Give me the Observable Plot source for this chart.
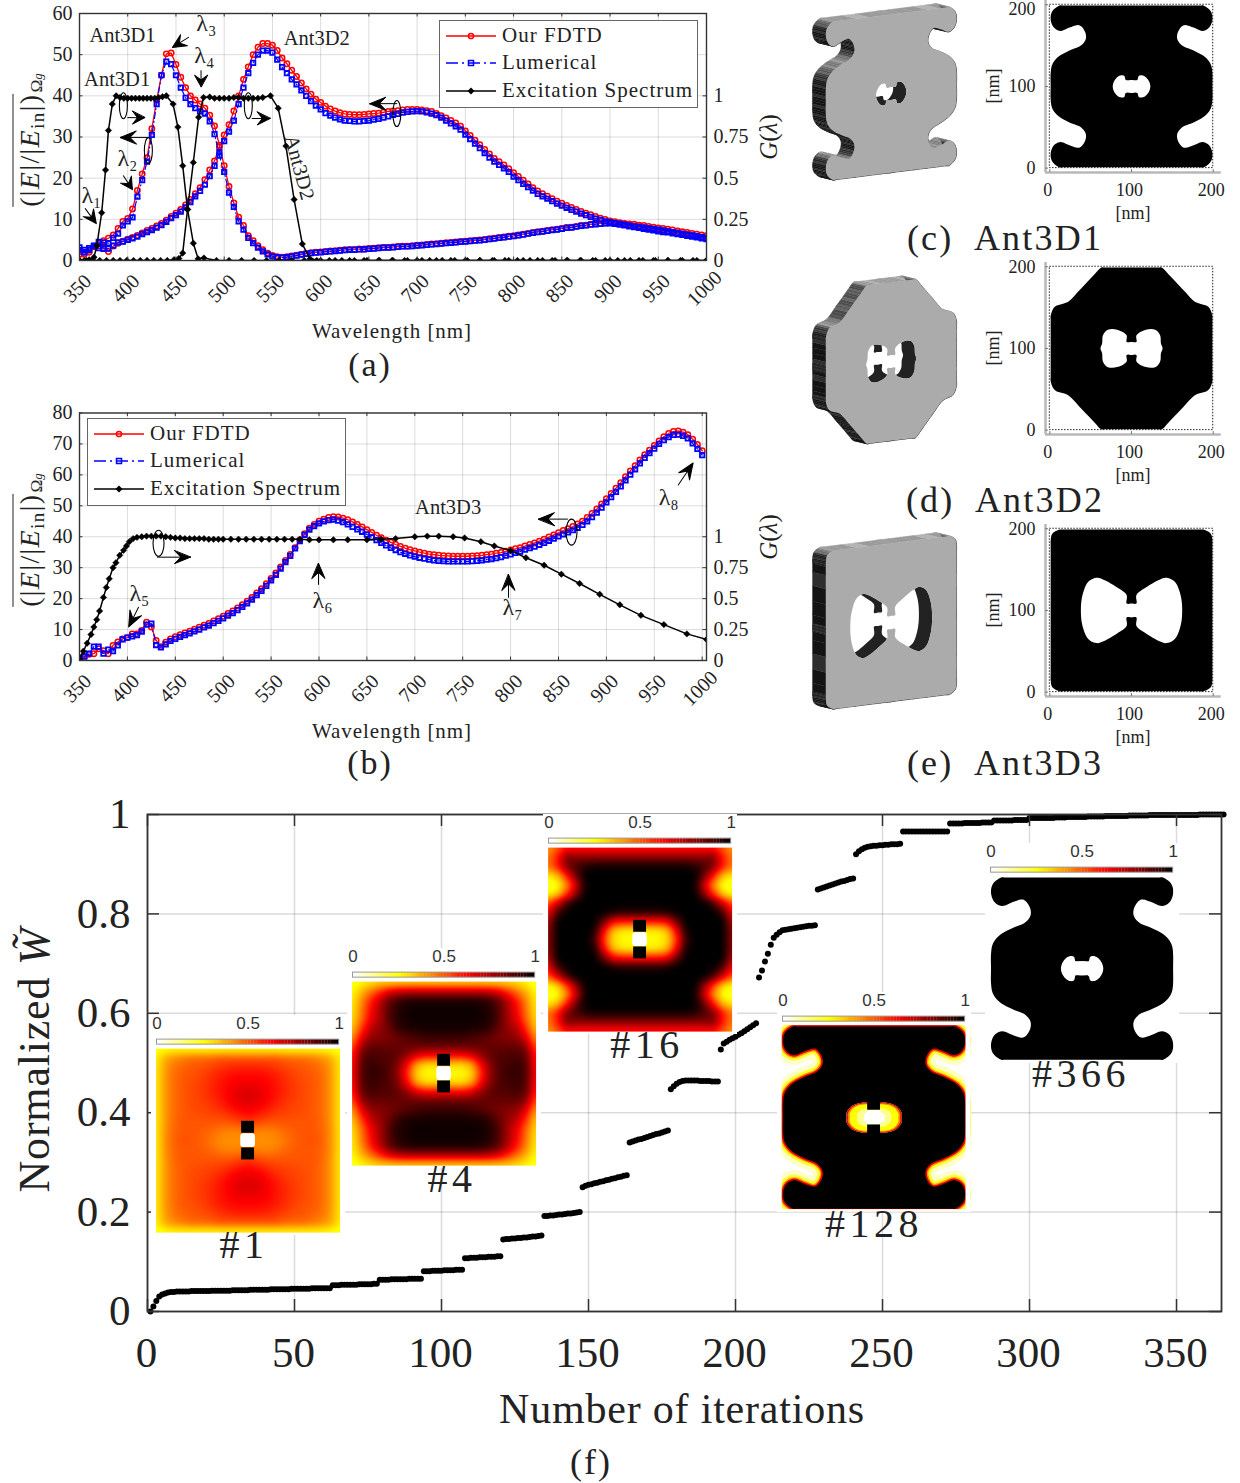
<!DOCTYPE html>
<html><head><meta charset="utf-8">
<script src="https://cdn.jsdelivr.net/npm/d3@7"></script>
<script src="https://cdn.jsdelivr.net/npm/@observablehq/plot@0.6"></script>
<style>
html,body{margin:0;padding:0;background:#fff}
#page{position:relative;width:1240px;height:1483px;overflow:hidden;font-family:"Liberation Serif",serif;color:#222}
#page svg{position:absolute;max-width:none}
.t{position:absolute;white-space:nowrap;transform-origin:center}
.legend{position:absolute;background:#fff;border:1.5px solid #666;box-sizing:border-box}
</style></head><body><div id="page"></div>
<script>
// ---------- spectra sampled every 5 nm from 350 to 1000 nm ----------
const wavelength = d3.range(350, 1001, 5);
const d1Fdtd = [1.5,1.5,2,3.5,4.2,4.8,5.4,6.2,7.8,9.5,
 10.2,12.5,17,21,25,32,39,45,50.2,50.4,47.6,44.5,42,40,39,38,37,35.3,32.7,28,
 23,18,14,10.5,8.5,6,4.8,3.6,2.6,1.8,1.2,.9,.8,.9,1.1,1.3,1.5,1.7,1.9,2,
 2.1,2.2,2.3,2.4,2.5,2.6,2.7,2.7,2.8,2.8,2.9,3,3.1,3.2,3.2,3.3,3.4,3.5,3.5,3.6,
 3.7,3.8,3.9,4,4.1,4.2,4.3,4.4,4.5,4.6,4.7,4.8,4.9,5,5.1,5.3,5.4,5.6,5.7,5.9,
 6,6.2,6.4,6.6,6.8,7,7.1,7.3,7.5,7.6,7.8,8,8.1,8.3,8.5,8.6,8.8,8.9,9,9.1,
 9.2,9.1,9,8.8,8.6,8.4,8.2,8,7.8,7.6,7.4,7.2,7.1,6.9,6.7,6.5,6.3,6.1,5.9,5.7,5.5];
const d1Lumerical = [3.2,2.6,3,3.5,4.5,4.4,4.2,5.5,6.5,8.5,
 9.5,10.5,15.5,19.5,24,30.5,38,45,48.3,47.7,45,42,39.5,38,37,36.2,35.7,33.8,30.7,25.5,
 21.5,16.5,13,9.5,7.5,5.5,4.2,3.1,2.2,1.5,1,.8,.7,.8,1,1.2,1.4,1.6,1.8,1.9,
 2,2.1,2.2,2.3,2.4,2.5,2.6,2.6,2.7,2.7,2.8,2.9,3,3.1,3.1,3.2,3.3,3.4,3.4,3.5,
 3.6,3.7,3.8,3.9,4,4.1,4.2,4.3,4.4,4.5,4.6,4.7,4.8,4.9,5,5.2,5.3,5.5,5.6,5.8,
 5.9,6.1,6.3,6.5,6.7,6.9,7,7.2,7.4,7.5,7.7,7.9,8,8.2,8.4,8.5,8.7,8.8,8.9,9,
 9,8.9,8.7,8.5,8.3,8.1,7.9,7.7,7.5,7.3,7.1,6.9,6.8,6.6,6.4,6.2,6,5.8,5.6,5.4,5.2];
const d2Fdtd = [1.5,2,2.5,3.4,3.6,3,2.2,3.5,4.2,4.7,
 5.2,5.6,6.1,6.7,7.3,7.8,8.4,9,9.8,10.7,11.5,12.4,13.5,14.8,16.2,17.7,19.6,22,24.2,27.6,
 30.5,33,36.3,40,44,47,50,51.8,52.7,52.7,52.3,51,49.2,47.8,46.2,44.7,43.1,41.7,40.4,39.2,
 38.4,37.5,36.8,36.3,35.9,35.6,35.5,35.4,35.4,35.5,35.6,35.7,35.8,36,36.2,36.3,36.4,36.6,36.7,36.7,
 36.7,36.6,36.4,36.2,35.7,35.2,34.6,34,33.4,32.6,31.5,30.4,29.2,28.1,27,25.9,24.8,24,23.2,22.3,
 21.3,20.4,19.5,18.6,17.7,16.9,16.2,15.6,15,14.4,13.9,13.4,12.9,12.4,11.9,11.5,11.1,10.7,10.3,10,
 9.6,9.4,9.2,9,8.9,8.8,8.6,8.5,8.3,8.1,7.9,7.8,7.6,7.4,7.2,7,6.8,6.6,6.4,6.2,6];
const d2Lumerical = [2.5,2,2.6,3.6,3,2.8,2.9,3.6,4.4,4.6,
 5,5.4,5.8,6.4,6.9,7.4,8,8.6,9.4,10.3,11,11.9,12.9,14.2,15.6,16.9,18.4,20.5,23,26.3,
 29,31.3,34,38,42,45.5,48,50,51,51,50.5,48.8,47,45.5,44,42.8,41.3,40,38.7,37.6,
 36.7,35.8,35.2,34.7,34.3,34,33.9,33.8,33.8,33.9,34,34.2,34.4,34.7,35,35.4,35.6,35.9,36.1,36.2,
 36.3,36.2,36,35.7,35.3,34.7,34,33.3,32.6,31.8,30.6,29.5,28.4,27.3,26.1,25,24,23.2,22.4,21.5,
 20.4,19.5,18.6,17.8,17,16.2,15.6,15,14.4,13.8,13.3,12.8,12.3,11.9,11.4,11,10.6,10.2,9.9,9.5,
 9.3,9.1,8.9,8.7,8.5,8.3,8.2,8,7.8,7.7,7.5,7.3,7.1,6.9,6.7,6.5,6.3,6.1,5.9,5.7,5.5];
const d3Fdtd = [.5,1,2,2.2,3.8,3.2,2.2,4.9,6,7,
 7.4,8.6,8.6,9.7,12.4,10.8,6.5,4.5,5.9,7,7.7,8.3,8.9,9.5,10.1,10.8,11.4,12,12.8,13.5,
 14.3,15.2,16,17,18,19.2,20.4,21.8,23.2,24.8,26.5,28.3,30.2,32.3,34.3,36.5,39,41,42.8,44,
 45,45.7,46.2,46.5,46.4,46,45.5,44.8,44,43.2,42.3,41.4,40.5,39.7,38.9,38.2,37.5,36.9,36.3,35.8,
 35.4,35,34.7,34.4,34.2,34,33.9,33.8,33.7,33.7,33.7,33.7,33.8,33.9,34,34.2,34.4,34.7,34.9,35.3,
 35.7,36.1,36.5,37,37.5,38,38.6,39.2,39.9,40.6,41.3,42,42.6,43.3,44.1,45,46.2,47.5,49,50.6,
 52.3,54,55.7,57.5,59.4,61.3,63,64.8,66.5,68,69.5,71,72.3,73.4,74,74.2,73.8,73,71.5,69.8,67.8];
const d3Lumerical = [1,1.3,2.2,4.5,4.5,2.2,3.5,3,4.9,6.8,
 7.4,7.8,8.2,9.3,11.6,11.9,5,4.2,5.2,6.3,7,7.6,8.2,8.8,9.4,10,10.7,11.3,12.1,12.8,
 13.6,14.5,15.3,16.3,17.3,18.5,19.7,21.1,22.5,24.1,25.9,27.7,29.7,31.8,33.8,36.2,38.6,40.6,42.3,43.4,
 44.3,45,45.4,45.5,45.2,44.7,44,43.2,42.4,41.6,40.7,39.8,38.9,38,37.2,36.4,35.7,35,34.5,34,
 33.6,33.2,32.9,32.6,32.4,32.2,32.1,32,32,32,32,32,32.1,32.2,32.4,32.6,32.8,33.1,33.4,33.9,
 34.3,34.8,35.2,35.8,36.3,36.8,37.4,38,38.7,39.4,40.1,40.8,41.4,42.1,42.9,43.8,45,46.3,47.8,49.4,
 51.1,52.8,54.5,56.3,58.2,60.1,61.8,63.7,65.5,67,68.5,70,71.2,72.2,72.9,73,72.6,71.8,70.2,68.4,66.4];

// ---------- excitation spectra G(lambda) ----------
const zeroTailA = [492,505,518,531,544,557,570,583,596,609,622,635,648,661,674,687,700,713,726,739,752,765,778,791,804,817,830,843,856,869,882,895,908,921,934,947,960,973,986,1000];
const exc1Wl = [350,355,360,365,368,373,377,380,384,388,392,396,400,404,408,412,416,420,424,428,432,436,440,447,452,457,462,468,473,479,...zeroTailA];
const exc1G = [0,0,.005,.02,.09,.29,.55,.79,.95,1,.99,.985,.985,.985,.985,.985,.985,.985,.985,.985,.99,.995,1,.95,.81,.575,.31,.105,.01,.015,...zeroTailA.map(()=>0)];
const exc2Wl = [350,357,364,371,378,385,392,399,406,413,420,427,434,441,448,453,457,462,468,473.5,478.6,485,490,495,500,505,510,515,520,525,530,535,540,548,556,564,572.5,581,589,600,615,630,645,660,675,690,705,720,735,750,765,780,795,810,825,840,855,870,885,900,915,930,945,960,975,990,1000];
const exc2G = [0,0,0,0,0,0,0,0,0,0,0,0,0,0,.005,.012,.045,.31,.595,.87,.99,.993,.985,.985,.985,.985,.99,.99,.985,.985,.985,.985,.99,1,.925,.695,.37,.1,.01,0,0,0,0,0,0,0,0,0,0,0,0,0,0,0,0,0,0,0,0,0,0,0,0,0,0,0,0];
const exc3Wl = [350,354,358,362,365,368,371,375,378,381,385,388,392,396,399,402,406,410,415,420,425,430,435,440,445,450,455,460,465,470,475,480,485,490,495,500,508,516,524,532,540,548,556,564,572,580,590,600,615,630,650,665,680,700,713,725,740,752,769,783,800,816,835,853,872,893,914,936,960,984,1004.5];
const exc3G = [.0125,.075,.14,.21,.27,.33,.4,.51,.59,.66,.75,.79,.85,.89,.925,.96,.985,.995,1,1.005,1.005,1.005,1.005,1,.995,.99,.99,.985,.985,.985,.985,.985,.98,.98,.98,.98,.98,.98,.98,.98,.98,.98,.98,.98,.98,.98,.975,.975,.975,.975,.975,.98,.985,1,1.005,1.005,1,.99,.96,.925,.8875,.83,.77,.6975,.6225,.535,.45,.365,.29,.215,.17];

// ---------- annotations, in data units ----------
const wlTicks = [350,400,450,500,550,600,650,700,750,800,850,900,950,1000];
const gLabels = ["0","0.25","0.5","0.75","1"];
const textsA = [["Ant3D1",394.5,54.7,0],["Ant3D1",389,44,0],["Ant3D2",596,53.9,0],["Ant3D2",578,22.6,75],
 ["λ₁",362.4,15.8,0],["λ₂",399.7,24.8,0],["λ₃",481.5,57.6,0],["λ₄",479.4,49.8,0]];
const arrowsA = [[356,12.6,143.7,18.6],[395.5,20.6,147,16.6],[463,54.2,-122,19],[476,46.1,180,16],
 [400,34.7,90,17],[421.4,29.9,-90,28],[529,34.5,90,18],[679,38.1,-90,27]];
const ringsA = [[395.5,37.6],[421.4,26.7],[525,37.6],[679,35.7]];
const textsB = [["Ant3D3",734.8,49.6,0],["λ₅",412.6,21.7,0],["λ₆",603.7,19.4,0],["λ₇",802,17.2,0],["λ₈",965,52.8,0]];
const arrowsB = [[411.6,17.2,-153.4,22],[599.5,24.6,0,21],[797.8,20.4,0,23],[975,56.7,34,26.6],[431.4,33.4,90,33],[859.4,45.7,-90,29]];
const ringsB = [[432.5,37.9],[863.6,41.5]];
const legendNames = ["Our FDTD","Lumerical","Excitation Spectrum"];

// ---------- convergence curve, normalized W per iteration ----------
const normalizedW = [0,.010,.021,.030,.034,.036,.038,.039,.039,.040,
 .040,.040,.040,.040,.041,.041,.041,.041,.041,.041,.041,.042,.042,.042,.042,.042,.042,.042,.043,.043,
 .043,.043,.043,.043,.044,.044,.044,.044,.044,.044,.044,.045,.045,.045,.045,.045,.045,.045,.046,.046,
 .046,.046,.046,.046,.046,.047,.047,.047,.047,.047,.047,.047,
 .053,.053,.053,.054,.054,.054,.054,.054,.054,.055,.055,.055,.055,.055,.056,.056,
 .064,.064,.064,.064,.065,.065,.065,.065,.065,.065,.066,.066,.066,.066,.066,
 .081,.081,.081,.082,.082,.082,.082,.083,.083,.083,.083,.084,.084,.084,
 .107,.107,.108,.108,.108,.109,.109,.109,.110,.110,.110,.111,.111,
 .145,.146,.146,.147,.147,.148,.148,.149,.149,.150,.151,.151,.152,.153,
 .192,.192,.193,.193,.194,.195,.195,.196,.197,.197,.198,.199,.200,
 .250,.253,.255,.256,.258,.259,.261,.262,.264,.265,.267,.268,.270,.271,.273,.274,
 .340,.342,.344,.346,.347,.349,.351,.353,.355,.357,.358,.360,.362,.364,
 .447,.453,.458,.462,.464,.465,.465,.465,.465,.465,.464,.464,.464,.464,.463,.463,.463,
 .527,.539,.543,.547,.550,.553,.557,.560,.564,.568,.572,.576,.580,
 .672,.686,.704,.720,.738,.752,.758,.763,.767,.768,.769,.770,.771,.772,.773,.774,.775,.776,.776,.777,
 .849,.851,.853,.855,.857,.859,.861,.863,.865,.866,.868,.870,.871,
 .920,.926,.930,.933,.935,.936,.937,.937,.938,.938,.939,.939,.940,.940,.940,.941,
 .966,.966,.966,.966,.966,.966,.966,.966,.966,.966,.966,.966,.966,.966,.966,.966,
 .982,.982,.982,.982,.982,.983,.983,.983,.983,.983,.983,.984,.984,.984,.984,
 .988,.988,.988,.988,.988,.988,.988,.989,.989,.989,.989,.989,
 .993,.993,.993,.993,.993,.993,.993,.993,.993,.994,.994,.994,.994,
 .995,.995,.995,.995,.995,.995,.995,.996,.996,.996,.996,.996,.996,
 .997,.997,.997,.997,.997,.997,.997,.997,.998,.998,.998,.998,.998,.998,.998,
 .999,.999,.999,.999,.999,.999,.999,.999,.999,.999,.999,.999,.999,.999,.999,.999,.999,1,1,1,1,1,1,1,1,1];
const iterTicks = [0,50,100,150,200,250,300,350];
const wTicks = [0,.2,.4,.6,.8,1];

// ---------- heat-map insets: quadrant of the symmetric field, rows dy = 100..0 nm, columns dx = 0..100 nm ----------
const field1 = [
[.25,.25,.25,.25,.25,.25,.25,.25,.25,.24,.23],
[.5,.5,.5,.5,.48,.47,.47,.45,.42,.38,.27],
[.58,.58,.57,.55,.53,.51,.5,.48,.46,.4,.28],
[.62,.62,.61,.59,.56,.53,.51,.5,.47,.41,.28],
[.65,.65,.63,.6,.57,.54,.52,.5,.47,.41,.28],
[.68,.67,.64,.6,.57,.54,.52,.5,.47,.41,.28],
[.66,.65,.62,.58,.55,.53,.52,.5,.47,.41,.28],
[.62,.6,.57,.54,.53,.52,.51,.5,.47,.41,.28],
[.55,.52,.5,.5,.5,.5,.5,.5,.48,.41,.28],
[.45,.43,.43,.44,.47,.49,.5,.5,.48,.42,.28],
[.42,.41,.41,.42,.45,.48,.5,.51,.49,.42,.28]];
const field4 = [
[.3,.3,.3,.3,.3,.3,.3,.3,.28,.25,.22],
[.72,.72,.72,.72,.72,.7,.65,.55,.45,.35,.25],
[.96,.96,.96,.96,.95,.92,.85,.72,.58,.42,.27],
[.98,.98,.98,.98,.97,.95,.88,.75,.62,.45,.28],
[.98,.98,.98,.98,.97,.95,.88,.75,.65,.47,.3],
[.97,.97,.97,.96,.96,.93,.85,.78,.72,.55,.33],
[.92,.92,.92,.9,.88,.85,.82,.8,.78,.65,.4],
[.85,.85,.85,.85,.85,.85,.85,.85,.85,.78,.5],
[.65,.63,.63,.68,.78,.85,.88,.88,.9,.85,.58],
[.32,.3,.3,.38,.62,.8,.88,.9,.92,.88,.6],
[.25,.25,.25,.3,.55,.78,.88,.92,.93,.88,.62]];
const field16 = [
[.6,.6,.6,.6,.6,.6,.6,.6,.6,.5,.4],
[.8,.8,.8,.8,.8,.8,.8,.8,.82,.6,.45],
[.98,.98,.98,.98,.98,.98,.95,.9,.82,.6,.45],
[1,1,1,1,1,1,1,.85,.6,.35,.28],
[1,1,1,1,1,1,.98,.7,.42,.24,.2],
[1,1,1,1,1,1,1,.8,.55,.32,.25],
[1,1,1,1,1,1,1,1,.9,.7,.5],
[.95,.95,.95,.97,1,1,1,1,1,.9,.65],
[.6,.6,.6,.65,.85,1,1,1,1,1,.75],
[.27,.27,.28,.35,.65,.97,1,1,1,1,.8],
[.25,.25,.25,.3,.55,.92,1,1,1,1,.8]];
const colorStops = [0,.25,.625,1];
const colorRange = ["#ffffff","#ffff00","#ff0000","#000000"];
const insetTicks = [[0,"0"],[.5,"0.5"],[1,"1"]];

// ---------- antenna outlines: one quadrant, in nm from the centre ----------
const ant1Outer = [[0,99],[88,99],[97,92],[99,82],[95,72],[87,68],[76,72],[64,75],[57,67],[56,58],[62,50],[76,44],[90,36],[97,27],[99,16],[99,0]];
const ant1Hole = [[0,8],[7,8],[9,13],[15,13],[21,7],[23,0]];
const ant2Outer = [[0,99],[37,99],[45,91],[64,71],[78,57],[94,51],[99,40],[99,0]];
const ant2Hole = [[0,8],[6,8],[6,16],[15,22],[29,23],[35,16],[36,6],[38,0]];
const ant3Outer = [[0,99],[88,99],[97,94],[99,85],[99,0]];
const ant3Hole = [[0,8.5],[6,8.5],[6,19],[19,29],[35,38],[43,40],[53,35],[60,19],[62,0]];
const ant128Hole = [[0,16],[15,16],[25,12],[30,5],[30,0]];
const nmTicks = [0,100,200];

// ---------- helpers ----------
const page = document.getElementById("page");
const serif = '"Liberation Serif",serif';
const ink = "#222";
const put = (el,left,top)=>{el.style.left=left+"px";el.style.top=top+"px";page.appendChild(el);return el;};
function label(html,cx,cy,size,rot=0,extra=""){
  const d=document.createElement("div");d.className="t";d.innerHTML=html;
  d.style.cssText=`left:${cx}px;top:${cy}px;font-size:${size}px;transform:translate(-50%,-50%) rotate(${rot}deg);line-height:1;${extra}`;
  page.appendChild(d);return d;
}
const solidArrow={draw(c,l){const h=Math.min(16,l*.72),w=6.5;
  c.moveTo(0,0);c.lineTo(0,-l);c.moveTo(0,-l);c.lineTo(w,-l+h);c.lineTo(0,-l+h*.6);c.lineTo(-w,-l+h);c.closePath();}};
const ringSymbol=(w,h)=>({draw(c){const k=.5523,a=w/2,b=h/2;
  c.moveTo(a,0);c.bezierCurveTo(a,k*b,k*a,b,0,b);c.bezierCurveTo(-k*a,b,-a,k*b,-a,0);
  c.bezierCurveTo(-a,-k*b,-k*a,-b,0,-b);c.bezierCurveTo(k*a,-b,a,-k*b,a,0);c.closePath();}});
const rows=(xs,ys,f=v=>v)=>xs.map((x,i)=>({x,y:f(ys[i])}));

function spectrum({top,mT,yMax,xMax,gTop,curves,excs,texts,arrows,rings,ringW}){
  const H=300,mB=H-(gTop),W=780,mL=79,mR=74,innerH=gTop-mT,innerW=W-mL-mR;
  const xT=wlTicks, yT=d3.range(0,yMax+1,10), gT=[0,10,20,30,40];
  const grey="#000";
  const marks=[
    Plot.gridX(xT,{stroke:grey,strokeOpacity:.14,strokeWidth:1}),
    Plot.gridY(yT,{stroke:grey,strokeOpacity:.14,strokeWidth:1}),
  ];
  curves.forEach(([red])=>{
    const r=rows(wavelength,red);
    marks.push(Plot.line(r,{x:"x",y:"y",stroke:"#f00",strokeWidth:1.3,clip:true}),
      Plot.dot(r,{x:"x",y:"y",r:2.7,stroke:"#f00",strokeWidth:1.5,fill:"none",clip:true}));
  });
  curves.forEach(([red,blue])=>{
    const b=rows(wavelength,blue);
    marks.push(Plot.line(b,{x:"x",y:"y",stroke:"#00f",strokeWidth:1.2,strokeDasharray:"6,3,1,3",clip:true}),
      Plot.dot(b,{x:"x",y:"y",r:2.5,symbol:"square",stroke:"#00f",strokeWidth:1.8,fill:"none",clip:true}));
  });
  excs.forEach(([xs,g])=>{
    const e=rows(xs,g,v=>v*40);
    marks.push(Plot.line(e,{x:"x",y:"y",stroke:"#000",strokeWidth:1.5,clip:true}),
      Plot.dot(e,{x:"x",y:"y",r:2.9,symbol:"diamond2",fill:"#000",stroke:"#000",strokeWidth:.5,clip:true}));
  });
  arrows.forEach(([x,y,rot,len])=>marks.push(Plot.vector([0],{x:()=>x,y:()=>y,rotate:rot,length:len,anchor:"start",shape:solidArrow,stroke:"#000",fill:"#000",strokeWidth:1})));
  rings.forEach(([x,y])=>marks.push(Plot.dot([0],{x:()=>x,y:()=>y,symbol:ringSymbol(ringW,26),stroke:"#000",strokeWidth:1.1,fill:"none"})));
  texts.forEach(([t,x,y,rot])=>marks.push(Plot.text([t],{x:()=>x,y:()=>y,text:d=>d,rotate:rot,fontSize:t[0]==="λ"?24:20.5,fill:ink,fontFamily:serif,textAnchor:"middle",lineAnchor:"middle"})));
  marks.push(
    Plot.tickX(xT,{x:d=>d,insetTop:innerH-3.5,stroke:"#333"}),
    Plot.tickX(xT,{x:d=>d,insetBottom:innerH-3.5,stroke:"#333"}),
    Plot.tickY(yT,{y:d=>d,insetRight:innerW-3.5,stroke:"#333"}),
    Plot.tickY(gT,{y:d=>d,insetLeft:innerW-3.5,stroke:"#333"}),
    Plot.frame({stroke:"#333",strokeWidth:1.4}),
    Plot.axisY({anchor:"left",ticks:yT,tickSize:0,tickPadding:7,fontSize:20,fill:ink,label:null}),
    Plot.axisY({anchor:"right",ticks:gT,tickSize:0,tickPadding:7,fontSize:20,fill:ink,label:null,tickFormat:v=>gLabels[v/10]}),
    Plot.text(xT,{x:d=>d,frameAnchor:"bottom",dy:28,dx:-2,rotate:-45,text:d=>String(d),fontSize:20,fill:ink,textAnchor:"middle",lineAnchor:"middle"})
  );
  const svg=Plot.plot({width:W,height:H,marginLeft:mL,marginRight:mR,marginTop:mT,marginBottom:mB,
    x:{domain:[350,xMax],axis:null},y:{domain:[0,yMax],axis:null},
    style:{fontFamily:serif,fontSize:"20px",background:"transparent",overflow:"visible"},marks});
  return put(svg,0,top);
}
function legend(left,top,w,h,textX){
  const box=document.createElement("div");box.className="legend";
  box.style.cssText=`left:${left}px;top:${top}px;width:${w}px;height:${h}px`;
  const sw=[['#f00','','<circle cx="25" cy="9" r="2.6" fill="none" stroke="#f00" stroke-width="1.5"/>'],
            ['#00f','stroke-dasharray="12,4,2,4"','<rect x="22.5" y="6.5" width="5" height="5" fill="none" stroke="#00f" stroke-width="1.5"/>'],
            ['#000','','<path d="M25 5.5L28.5 9L25 12.5L21.5 9Z" fill="#000"/>']];
  legendNames.forEach((n,i)=>{
    const r=document.createElement("div");r.style.cssText=`position:absolute;left:6px;top:${.5+i*27.6}px;height:28px;white-space:nowrap;font-size:21px;line-height:26px;letter-spacing:1px`;
    r.innerHTML=`<svg width="50" height="18" style="position:static;vertical-align:-3px;margin-right:${textX-56}px"><line x1="0" x2="50" y1="9" y2="9" stroke="${sw[i][0]}" stroke-width="1.7" ${sw[i][1]}/>${sw[i][2]}</svg>${n}`;
    box.appendChild(r);
  });
  page.appendChild(box);
}
// pin the ends of long straight runs so the rounding below stays at the corners
function pinRuns(p){
  const o=[];
  p.forEach((a,i)=>{
    const b=p[(i+1)%p.length],L=Math.hypot(b[0]-a[0],b[1]-a[1]);
    o.push(a);
    if(L>24){const d=5/L;
      o.push([a[0]+(b[0]-a[0])*d,a[1]+(b[1]-a[1])*d],[b[0]-(b[0]-a[0])*d,b[1]-(b[1]-a[1])*d]);}
  });
  return o;
}
// centripetal Catmull-Rom through the read outline points
function smooth(q,steps=5){
  const p=pinRuns(q),n=p.length,o=[];
  const kn=(t,a,b)=>t+Math.max(1e-6,Math.sqrt(Math.hypot(b[0]-a[0],b[1]-a[1])));
  const mix=(a,b,ta,tb,t)=>[0,1].map(k=>((tb-t)*a[k]+(t-ta)*b[k])/(tb-ta));
  for(let i=0;i<n;i++){
    const p0=p[(i-1+n)%n],p1=p[i],p2=p[(i+1)%n],p3=p[(i+2)%n];
    const t0=0,t1=kn(t0,p0,p1),t2=kn(t1,p1,p2),t3=kn(t2,p2,p3);
    for(let s=0;s<steps;s++){
      const t=t1+(t2-t1)*s/steps;
      const A1=mix(p0,p1,t0,t1,t),A2=mix(p1,p2,t1,t2,t),A3=mix(p2,p3,t2,t3,t);
      const B1=mix(A1,A2,t0,t2,t),B2=mix(A2,A3,t1,t3,t);
      o.push(mix(B1,B2,t1,t2,t));
    }
  }
  return o;
}
function loop(q){
  const m=[...q,...q.slice(0,-1).reverse().map(([x,y])=>[x,-y]),...q.slice(1).map(([x,y])=>[-x,-y]),...q.slice(1,-1).reverse().map(([x,y])=>[-x,y])];
  return smooth(m);
}
const keyhole=(o,h)=>{const hr=[...h].reverse();return [...o,o[0],hr[0],...hr,hr[0]];};
const xy={x:d=>d[0],y:d=>d[1]};

// 3-D render of an antenna: the outline sheared, with a swept side wall
function antenna3d(cy,outerQ,holeQ){
  const shear=.104,ox=-20,oy=4;
  const sh=p=>p.map(([x,y])=>[x,y+shear*x]);
  const off=p=>p.map(([x,y])=>[x+ox,y+oy]);
  const o=sh(loop(outerQ)),h=sh(loop(holeQ));
  const quads=[];
  o.forEach((a,i)=>{const b=o[(i+1)%o.length];
    const ux=b[0]-a[0],uy=b[1]-a[1],L=Math.hypot(ux,uy)||1,ny=-ux/L;
    const g=Math.round(20+(ny<0?135*ny*ny:0)+(i%4===0?26:0));
    const c=`rgb(${g},${g},${g})`;
    [[a[0],a[1]],[b[0],b[1]],[b[0]+ox,b[1]+oy],[a[0]+ox,a[1]+oy]].forEach(p=>quads.push({q:i,x:p[0],y:p[1],c}));
  });
  const svg=Plot.plot({width:190,height:210,margin:0,
    x:{domain:[-100,100],range:[24.7+5,156.7+5],axis:null},y:{domain:[-125,125],range:[205,5],axis:null},
    color:{type:"identity"},style:{background:"transparent",overflow:"visible"},
    marks:[
      Plot.line(quads,{x:"x",y:"y",z:"q",fill:"c",stroke:"c",strokeWidth:.6}),
      Plot.line(h,{...xy,fill:"#222",stroke:"none"}),
      Plot.line(off(h),{...xy,fill:"#ffffff",stroke:"none"}),
      Plot.line(keyhole(o,h),{...xy,fill:"#ababab",stroke:"none"})
    ]});
  return put(svg,800-5,cy-105);
}
// 2-D binary map of an antenna with its nm axes
function binary(topY200,outerQ,holeQ){
  const o=loop(outerQ).map(([x,y])=>[x+100,y+100]),h=loop(holeQ).map(([x,y])=>[x+100,y+100]);
  const k=.817,mL=60,mT=10,H=230;
  const yTop=205.2,yBot=-5.4,W=mL+(209.8+5.3)*k+20;
  const topDy=topY200<8?4.5:0;
  const svg=Plot.plot({width:W,height:H,marginLeft:mL,marginRight:20,marginTop:mT,marginBottom:H-mT-(yTop-yBot)*k,
    x:{domain:[-5.3,209.8],axis:null},y:{domain:[yBot,yTop],axis:null},
    style:{fontFamily:serif,fontSize:"18px",background:"transparent",overflow:"visible"},
    marks:[
      Plot.line(keyhole(o,h),{...xy,fill:"#000",stroke:"none"}),
      Plot.rect([0],{x1:()=>0,x2:()=>200,y1:()=>0,y2:()=>200,fill:"none",stroke:"#222",strokeWidth:1,strokeDasharray:"1.5,1.5"}),
      Plot.ruleX([-5.3],{stroke:"#b8b8b8",strokeWidth:2.5}),
      Plot.ruleY([yBot],{stroke:"#b8b8b8",strokeWidth:2.5}),
      Plot.tickX(nmTicks,{x:d=>d,insetTop:(yTop-yBot)*k-3,stroke:"#777"}),
      Plot.tickY(nmTicks,{y:d=>d,insetRight:(215.1)*k-3,stroke:"#777"}),
      Plot.axisX({ticks:nmTicks,tickSize:0,tickPadding:11,dx:-2,fontSize:18,fill:ink,label:null}),
      Plot.axisY({ticks:[0,100],tickSize:0,tickPadding:10,fontSize:18,fill:ink,label:null}),
      Plot.axisY({ticks:[200],tickSize:0,tickPadding:10,dy:topDy,fontSize:18,fill:ink,label:null})
    ]});
  return put(svg,1045-mL,topY200-(205.2-200)*k-mT);
}
// upsample a hand-read quadrant into a smooth full field
function fullField(q,f=8){
  const g=(i,j)=>q[10-Math.abs(i-10)][Math.abs(j-10)];
  const n=20*f+1,out=new Float64Array(n*n);
  for(let r=0;r<n;r++)for(let c=0;c<n;c++){
    const a=r/f,b=c/f,i=Math.min(19,Math.floor(a)),j=Math.min(19,Math.floor(b)),u=a-i,v=b-j;
    out[r*n+c]=(1-u)*(1-v)*g(i,j)+(1-u)*v*g(i,j+1)+u*(1-v)*g(i+1,j)+u*v*g(i+1,j+1);
  }
  d3.blur2({data:out,width:n,height:n},2);
  return {values:Array.from(out),n};
}
function inset(imgX,imgY,inner){
  const k=.92;
  const bar=d3.range(0,1,1/64);
  const svg=Plot.plot({width:210*k,height:239*k,margin:0,
    x:{domain:[-105,105],axis:null},y:{domain:[-103,136],axis:null},
    color:{type:"linear",domain:colorStops,range:colorRange},
    style:{background:"#fff",overflow:"hidden",fontFamily:'"Liberation Sans",sans-serif'},
    marks:[
      ...inner,
      Plot.rect(bar,{x1:d=>-99+198*d,x2:d=>-99+198*(d+1/64)+.2,y1:()=>104.3,y2:()=>109.8,fill:d=>d}),
      Plot.rect([0],{x1:()=>-99,x2:()=>99,y1:()=>104.3,y2:()=>109.8,fill:"none",stroke:"#999",strokeWidth:1}),
      Plot.text(insetTicks,{x:d=>-99+198*d[0],y:()=>127,text:d=>d[1],fontSize:17,fill:"#333",textAnchor:"middle",lineAnchor:"middle"})
    ]});
  return put(svg,imgX-5*k,imgY-36*k);
}
const gapMarks=()=>[
  Plot.rect([-1,1],{x1:()=>-7,x2:()=>7,y1:d=>d*8,y2:d=>d*21,fill:"#000"}),
  Plot.rect([0],{x1:()=>-8,x2:()=>8,y1:()=>-7.5,y2:()=>7.5,fill:"#fff",r:3})
];
function rasterInner(q){
  const {values,n}=fullField(q);
  return [Plot.raster(values,{width:n,height:n,x1:-100,x2:100,y1:-100,y2:100,fill:d=>d}),...gapMarks()];
}
function shapeInner(outerQ,holeQ,halo){
  const o=loop(outerQ),h=loop(holeQ);
  const out=[];
  if(halo){
    [[20,"#ffffc8"],[11,"#ffff30"],[6,"#ff9a00"],[3.2,"#e00000"]].forEach(([w,c])=>{
      out.push(Plot.line([...o,o[0]],{...xy,stroke:c,strokeWidth:w,fill:"none"}));
    });
  }
  out.push(Plot.line(keyhole(o,h),{...xy,fill:"#000",stroke:"none"}));
  if(halo){
    [[1,"#d00000"],[.95,"#ff8000"],[.88,"#ffff00"],[.62,"#ffff90"],[.38,"#ffffff"]].forEach(([s,c])=>{
      out.push(Plot.line(h.map(([x,y])=>[x*s,y*s]),{...xy,fill:c,stroke:"none"}));
    });
  }
  out.push(...gapMarks());
  [[-105,-100,-103,136],[100,105,-103,136],[-105,105,100,104],[-105,105,-103,-100]].forEach(([a,b,c,d])=>
    out.push(Plot.rect([0],{x1:()=>a,x2:()=>b,y1:()=>c,y2:()=>d,fill:"#fff"})));
  return out;
}

// ---------- panels (a) and (b) ----------
spectrum({top:0,mT:13,yMax:60,xMax:1000,gTop:260,curves:[[d1Fdtd,d1Lumerical],[d2Fdtd,d2Lumerical]],
  excs:[[exc1Wl,exc1G],[exc2Wl,exc2G]],texts:textsA,arrows:arrowsA,rings:ringsA,ringW:8});
spectrum({top:400,mT:12.5,yMax:80,xMax:1004.5,gTop:260,curves:[[d3Fdtd,d3Lumerical]],
  excs:[[exc3Wl,exc3G]],texts:textsB,arrows:arrowsB,rings:ringsB,ringW:11});
legend(439,20,259,88,62);
legend(87,418,259,88,62);
const yLab=`<span style="display:inline-block;border-top:1.5px solid #222;padding-top:2px;letter-spacing:1.4px">(|<i>E</i>|/|<i>E</i><span style="font-size:.68em;vertical-align:-.28em;line-height:0">in</span>|)</span><span style="font-size:.62em;vertical-align:-.2em;line-height:0;margin-left:1px">Ω<i style="font-size:.75em">g</i></span>`;
label(yLab,28,140,28,-90);
label(yLab,28,540,28,-90);
label("<i>G</i>(<i>λ</i>)",768,137,25,-90);
label("<i>G</i>(<i>λ</i>)",768,537,25,-90);
label("Wavelength [nm]",392,331,21,0,"letter-spacing:.95px");
label("Wavelength [nm]",392,731,21,0,"letter-spacing:.95px");
label("(a)",370,365,34,0,"letter-spacing:2px");
label("(b)",370,763,34,0,"letter-spacing:2px");

// ---------- panels (c), (d), (e) ----------
[[93,4.3,ant1Outer,ant1Hole,"(c)&nbsp; Ant3D1",238,86,213],
 [361,266.7,ant2Outer,ant2Hole,"(d)&nbsp; Ant3D2",500,348,475],
 [622,528.3,ant3Outer,ant3Hole,"(e)&nbsp; Ant3D3",763,610,737]].forEach(([cy,y200,oq,hq,cap,capY,nmY,nmX])=>{
  antenna3d(cy,oq,hq);
  binary(y200,oq,hq);
  label(cap,1005,capY,36,0,"letter-spacing:2.2px");
  label("[nm]",993,nmY,18,-90);
  label("[nm]",1133,nmX,18);
});

// ---------- panel (f) ----------
{
  const data=normalizedW.map((w,i)=>({x:i+1,y:w}));
  const innerW=1221-147,innerH=497;
  const svg=Plot.plot({width:1240,height:530,marginLeft:147,marginRight:19,marginTop:14,marginBottom:19,
    x:{domain:[0,365.3],axis:null},y:{domain:[0,1],axis:null},
    style:{fontFamily:serif,fontSize:"43px",background:"transparent",overflow:"visible"},
    marks:[
      Plot.gridX(iterTicks,{stroke:"#000",strokeOpacity:.14,strokeWidth:1.5}),
      Plot.gridY(wTicks,{stroke:"#000",strokeOpacity:.14,strokeWidth:1.5}),
      Plot.dot(data,{x:"x",y:"y",r:3,fill:"#000"}),
      Plot.tickX(iterTicks,{x:d=>d,insetTop:innerH-12,stroke:"#333",strokeWidth:1.5}),
      Plot.tickX(iterTicks,{x:d=>d,insetBottom:innerH-12,stroke:"#333",strokeWidth:1.5}),
      Plot.tickY(wTicks,{y:d=>d,insetRight:innerW-12,stroke:"#333",strokeWidth:1.5}),
      Plot.tickY(wTicks,{y:d=>d,insetLeft:innerW-12,stroke:"#333",strokeWidth:1.5}),
      Plot.frame({stroke:"#333",strokeWidth:1.8}),
      Plot.axisY({ticks:wTicks,tickSize:0,tickPadding:17,fontSize:43,fill:ink,label:null,tickFormat:d=>String(d)}),
      Plot.axisX({ticks:iterTicks,tickSize:0,tickPadding:25,dx:-1,fontSize:43,fill:ink,label:null})
    ]});
  put(svg,0,800);
  inset(156,1048,rasterInner(field1));
  inset(352,981,rasterInner(field4));
  inset(548,847,rasterInner(field16));
  inset(782,1025,shapeInner(ant1Outer,ant128Hole,true));
  inset(990,876,shapeInner(ant1Outer,ant1Hole,false));
  [["#1",244,1245],["#4",452,1179],["#16",647,1045],["#128",874,1224],["#366",1081,1074]].forEach(([t,x,y])=>
    label(t,x,y,40,0,"letter-spacing:4.5px"));
  label("Number of iterations",682,1409,42,0,"letter-spacing:.8px");
  label("Normalized <i>W̃</i>",35,1060,44,-90,"letter-spacing:.8px");
  label("(f)",591,1462,36,0,"letter-spacing:2px");
}
</script></body></html>
